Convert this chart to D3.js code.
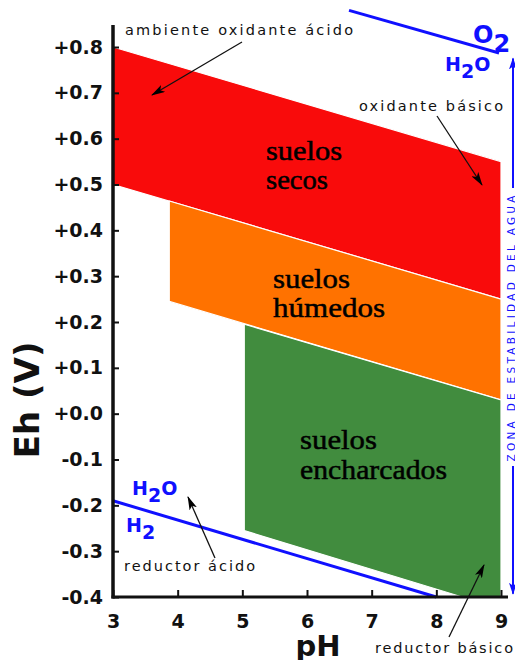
<!DOCTYPE html>
<html>
<head>
<meta charset="utf-8">
<script src="https://cdn.jsdelivr.net/npm/d3@7"></script>
<style>
  html, body { margin: 0; padding: 0; background: #fff; }
  svg { display: block; }
</style>
</head>
<body>
<svg id="chart" width="515" height="660"></svg>
<script>
// ---- data ----
const phTicks = [3, 4, 5, 6, 7, 8, 9];
const ehTicks = [0.8, 0.7, 0.6, 0.5, 0.4, 0.3, 0.2, 0.1, 0.0, -0.1, -0.2, -0.3, -0.4];
const suelosSecos = [[3, 0.80], [9, 0.55], [9, 0.25], [3, 0.50]];
const suelosHumedos = [[3.87, 0.464], [9, 0.25], [9, 0.03], [3.87, 0.245]];
const suelosEncharcados = [[5.03, 0.195], [9, 0.03], [9, -0.40], [8.4, -0.40], [5.03, -0.255]];
const lineaO2 = [[6.65, 0.88], [8.97, 0.787]];
const lineaH2 = [[3, -0.19], [8, -0.40]];
const zonaAgua = [0.775, -0.393];

// ---- scales ----
const svg = d3.select("#chart");
const x = d3.scaleLinear().domain([3, 9]).range([113, 501]);
const y = d3.scaleLinear().domain([-0.4, 0.8]).range([597, 47]);

const RED = "#f90b0b", ORANGE = "#ff7200", GREEN = "#418c3e", BLUE = "#1010ff";

const defs = svg.append("defs");
function marker(id, color, w, h) {
  defs.append("marker").attr("id", id)
    .attr("viewBox", `0 0 ${w} ${h}`).attr("refX", w - 1).attr("refY", h / 2)
    .attr("markerWidth", w).attr("markerHeight", h)
    .attr("markerUnits", "userSpaceOnUse").attr("orient", "auto-start-reverse")
    .append("path").attr("d", `M0,0 L${w},${h / 2} L0,${h} L${w * 0.25},${h / 2} z`).attr("fill", color);
}
marker("ah", "#000", 14, 8);
marker("ab", BLUE, 12, 8);

const area = d3.line().x(d => x(d[0])).y(d => y(d[1]));

// regions
[[suelosSecos, RED], [suelosHumedos, ORANGE], [suelosEncharcados, GREEN]].forEach(([pts, c]) => {
  svg.append("path").attr("d", area(pts) + "Z")
    .attr("fill", c).attr("stroke", "#fff").attr("stroke-width", 1.2);
});

// water lines
[lineaO2, lineaH2].forEach(pts => {
  svg.append("path").attr("d", area(pts)).attr("fill", "none")
    .attr("stroke", BLUE).attr("stroke-width", 3);
});

// axes
const yAxis = d3.axisLeft(y).tickValues(ehTicks).tickSize(-6).tickPadding(10)
  .tickFormat(d => (d < 0 ? "-" : "+") + Math.abs(d).toFixed(1));
const gy = svg.append("g").attr("transform", `translate(${x(3)},0)`).call(yAxis);
const xAxis = d3.axisBottom(x).tickValues(phTicks).tickSize(-7).tickPadding(18)
  .tickFormat(d3.format("d"));
const gx = svg.append("g").attr("transform", `translate(0,${y(-0.4)})`).call(xAxis);
[gx, gy].forEach(g => {
  g.select(".domain").remove();
  g.selectAll(".tick line").attr("stroke", "#111").attr("stroke-width", 2);
  g.selectAll(".tick text").attr("fill", "#111")
    .attr("font-family", "DejaVu Sans").attr("font-weight", "bold").attr("font-size", 19);
});
// axis lines
svg.append("line").attr("x1", x(3)).attr("x2", x(3)).attr("y1", y(0.8) - 22).attr("y2", y(-0.4) + 1.5)
  .attr("stroke", "#111").attr("stroke-width", 3.5);
svg.append("line").attr("x1", x(3) - 1.5).attr("x2", x(9) + 7).attr("y1", y(-0.4)).attr("y2", y(-0.4))
  .attr("stroke", "#111").attr("stroke-width", 3);

// axis titles
svg.append("text").attr("transform", `translate(39,${y(0.03)}) rotate(-90)`)
  .attr("text-anchor", "middle").attr("font-family", "DejaVu Sans").attr("font-weight", "bold")
  .attr("font-size", 34).attr("fill", "#111").text("Eh (V)");
svg.append("text").attr("x", 318).attr("y", 656).attr("text-anchor", "middle")
  .attr("font-family", "DejaVu Sans").attr("font-weight", "bold")
  .attr("font-size", 29).attr("fill", "#111").text("pH");

// region labels
function serif(txt, px, py, len) {
  svg.append("text").attr("x", px).attr("y", py)
    .attr("font-family", "Liberation Serif").attr("font-size", 28).attr("fill", "#000")
    .attr("stroke", "#000").attr("stroke-width", 0.5)
    .attr("textLength", len).attr("lengthAdjust", "spacingAndGlyphs").text(txt);
}
serif("suelos", 266, 160, 76);
serif("secos", 266, 189, 62);
serif("suelos", 273, 288, 77);
serif("húmedos", 273, 317, 112);
serif("suelos", 300, 449, 77);
serif("encharcados", 300, 479, 147);

// annotations
function note(txt, px, py, len) {
  svg.append("text").attr("x", px).attr("y", py)
    .attr("font-family", "DejaVu Sans").attr("font-size", 14.5).attr("fill", "#111")
    .attr("textLength", len).attr("lengthAdjust", "spacing").text(txt);
}
note("ambiente oxidante ácido", 125, 35, 228);
note("oxidante básico", 359, 111, 144);
note("reductor ácido", 124, 571, 131);
note("reductor básico", 375, 653, 138);

function arrow(x1, y1, x2, y2) {
  svg.append("line").attr("x1", x1).attr("y1", y1).attr("x2", x2).attr("y2", y2)
    .attr("stroke", "#111").attr("stroke-width", 1.3).attr("marker-end", "url(#ah)");
}
arrow(242, 42, 152, 95);
arrow(437, 116, 482, 185);
arrow(215, 558, 188, 497);
arrow(449, 637, 484, 565);

// chemical labels
function chem(base, sub, tail, px, py, fs) {
  const t = svg.append("text").attr("x", px).attr("y", py)
    .attr("font-family", "DejaVu Sans").attr("font-weight", "bold")
    .attr("font-size", fs).attr("fill", BLUE);
  t.append("tspan").text(base);
  t.append("tspan").attr("dy", fs * 0.38).text(sub);
  if (tail) t.append("tspan").attr("dy", -fs * 0.38).text(tail);
}
chem("O", "2", "", 473, 43, 24);
chem("H", "2", "O", 445, 71, 19);
chem("H", "2", "O", 132, 495, 19);
chem("H", "2", "", 126, 532, 19);

// water stability zone arrow
const zx = x(9) + 12;
svg.append("line").attr("x1", zx).attr("x2", zx).attr("y1", y(zonaAgua[0])).attr("y2", 188)
  .attr("stroke", BLUE).attr("stroke-width", 2).attr("marker-start", "url(#ab)");
svg.append("line").attr("x1", zx).attr("x2", zx).attr("y1", 466).attr("y2", y(zonaAgua[1]))
  .attr("stroke", BLUE).attr("stroke-width", 2).attr("marker-end", "url(#ab)");
svg.append("text").attr("transform", `translate(${zx + 1.5},${(195 + 462) / 2}) rotate(-90)`)
  .attr("text-anchor", "middle").attr("font-family", "DejaVu Sans").attr("font-size", 10.5)
  .attr("fill", BLUE).attr("textLength", 266).attr("lengthAdjust", "spacing")
  .text("ZONA DE ESTABILIDAD DEL AGUA");
</script>
</body>
</html>
